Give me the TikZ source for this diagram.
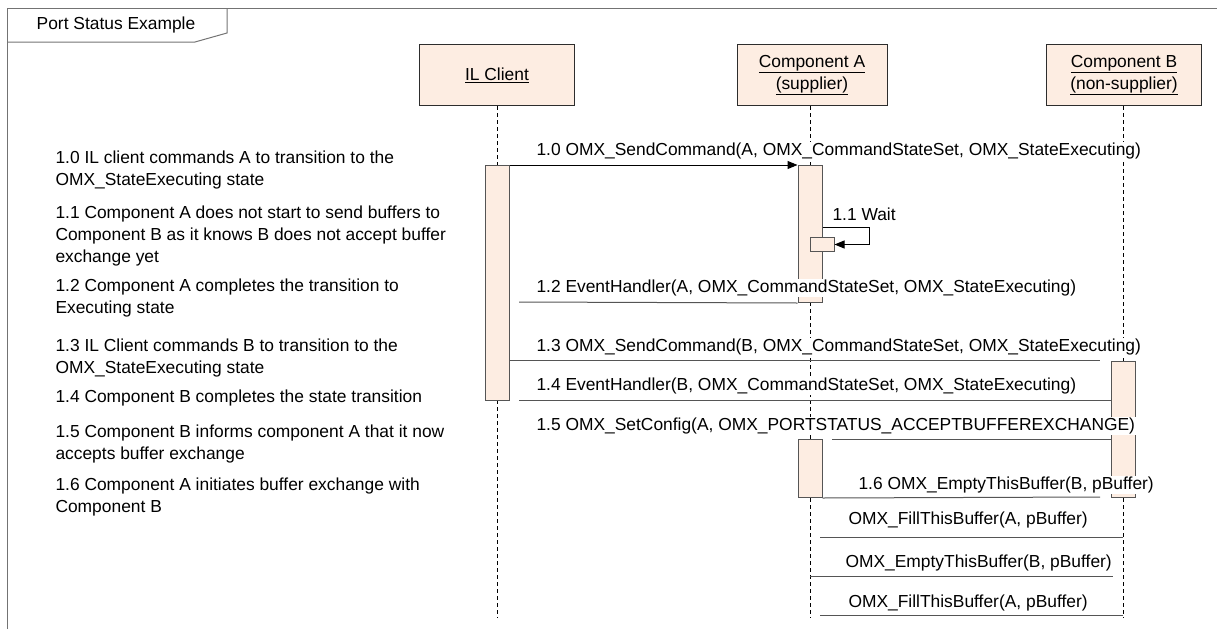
\documentclass[tikz,border=0pt]{standalone}
\usepackage{fontspec}
\setmainfont{Liberation Sans}
\usetikzlibrary{arrows.meta,positioning,calc}

\definecolor{boxfill}{RGB}{253,237,226}
\definecolor{boxline}{RGB}{45,45,45}
\definecolor{msgline}{RGB}{85,85,85}
\definecolor{framegray}{RGB}{115,115,115}

\newcommand{\txtfont}{\fontsize{17.4}{22}\selectfont}

\tikzset{
    lifebox/.style={draw=boxline, fill=boxfill, minimum width=155pt,
        minimum height=61pt, align=center, inner sep=0pt, font=\txtfont},
    actbar/.style={draw=msgline, fill=boxfill, minimum width=24pt,
        inner sep=0pt, anchor=north},
    lifeline/.style={draw=black, dash pattern=on 4pt off 3pt},
    msg/.style={draw=msgline},
    call/.style={draw=black, -{Triangle[length=10pt,width=8pt]}},
    msglabel/.style={anchor=west, fill=white, inner sep=1pt, font=\txtfont},
    note/.style={anchor=west, align=left, inner sep=0pt, font=\txtfont}
}

\begin{document}
\begin{tikzpicture}[x=1pt, y=-1pt, line width=1pt]

    \useasboundingbox (0,0) rectangle (1217,629);

    % Define where the lifelines stop
    \def\lifeend{618}

    % Draw the frame and its title tab
    \draw[framegray] (7,629) -- (7,8) -- (1217,8);
    \draw[framegray] (7,42) -- (195,42) -- (227,33) -- (227,8);
    \node[font=\txtfont, inner sep=0pt] (title) at (116,25) {Port Status Example};

    % Draw the lifeline heads
    \node[lifebox] (ilbox) at (497,75) {\underline{IL Client}};
    \node[lifebox, minimum width=150pt] (abox) at (812,75)
        {\underline{Component A}\\\underline{(supplier)}};
    \node[lifebox] (bbox) at (1124,75)
        {\underline{Component B}\\\underline{(non-supplier)}};

    % Draw the dashed lifelines
    \draw[lifeline] (ilbox.south) -- (ilbox.south |- 0,\lifeend);
    \draw[lifeline] (810,106) -- (810,\lifeend);
    \draw[lifeline] (1123,106) -- (1123,\lifeend);
    \coordinate (alife) at (810,0);
    \coordinate (blife) at (1123,0);

    % Draw the activation bars
    \node[actbar, minimum height=235pt] (ilbar) at (497,165) {};
    \node[actbar, minimum height=137pt] (abar) at (810,165) {};
    \node[actbar, minimum height=14pt] (waitbar) at (822,237) {};
    \node[actbar, minimum height=58pt] (a2bar) at (810,439) {};
    \node[actbar, minimum height=136pt] (bbar) at (1123,361) {};

    % Free ends of the messages that stop short of a bar
    \coordinate (m12end) at (519,302);
    \coordinate (m13end) at (1100,360);
    \coordinate (m14end) at (519,400);
    \coordinate (m15end) at (832,439);
    \coordinate (m16end) at (1100,497);
    \coordinate (f1end) at (820,537);
    \coordinate (e2end) at (1113,576);
    \coordinate (f3end) at (820,615);
    \coordinate (loopa) at (869,227);

    % Draw the messages
    \draw[call] (ilbar.north east) -- (abar.north west);
    \draw[call] (abar.east |- loopa) -- (loopa) |- (waitbar.east);
    \draw[msg] (abar.south west) -- (m12end);
    \draw[msg] (ilbar.east |- m13end) -- (m13end);
    \draw[msg] (bbar.west |- m14end) -- (m14end);
    \draw[msg] (bbar.west |- m15end) -- (m15end);
    \draw[msg] (a2bar.south east) -- (m16end);
    \draw[msg] (blife |- f1end) -- (f1end);
    \draw[msg] (alife |- e2end) -- (e2end);
    \draw[msg] (blife |- f3end) -- (f3end);

    % Add the message labels
    \node[msglabel] (l10) at (535,151)
        {1.0 OMX\_SendCommand(A, OMX\_CommandStateSet, OMX\_StateExecuting)};
    \node[msglabel] (l11) at (831,214) {1.1 Wait};
    \node[msglabel] (l12) at (535,288)
        {1.2 EventHandler(A, OMX\_CommandStateSet, OMX\_StateExecuting)};
    \node[msglabel] (l13) at (535,347)
        {1.3 OMX\_SendCommand(B, OMX\_CommandStateSet, OMX\_StateExecuting)};
    \node[msglabel] (l14) at (535,386)
        {1.4 EventHandler(B, OMX\_CommandStateSet, OMX\_StateExecuting)};
    \node[msglabel] (l15) at (535,426)
        {1.5 OMX\_SetConfig(A, OMX\_PORTSTATUS\_ACCEPTBUFFEREXCHANGE)};
    \node[msglabel] (l16) at (857,485) {1.6 OMX\_EmptyThisBuffer(B, pBuffer)};
    \node[msglabel] (lf1) at (847,520) {OMX\_FillThisBuffer(A, pBuffer)};
    \node[msglabel] (le2) at (844,563) {OMX\_EmptyThisBuffer(B, pBuffer)};
    \node[msglabel] (lf3) at (847,603) {OMX\_FillThisBuffer(A, pBuffer)};

    % Add the notes on the left
    \node[note] (n10) at (55,170)
        {1.0 IL client commands A to transition to the\\OMX\_StateExecuting state};
    \node[note] (n11) at (55,236)
        {1.1 Component A does not start to send buffers to\\Component B as it knows B does not accept buffer\\exchange yet};
    \node[note] (n12) at (55,298)
        {1.2 Component A completes the transition to\\Executing state};
    \node[note] (n13) at (55,358)
        {1.3 IL Client commands B to transition to the\\OMX\_StateExecuting state};
    \node[note] (n14) at (55,398) {1.4 Component B completes the state transition};
    \node[note] (n15) at (55,444)
        {1.5 Component B informs component A that it now\\accepts buffer exchange};
    \node[note] (n16) at (55,497)
        {1.6 Component A initiates buffer exchange with\\Component B};

\end{tikzpicture}
\end{document}
